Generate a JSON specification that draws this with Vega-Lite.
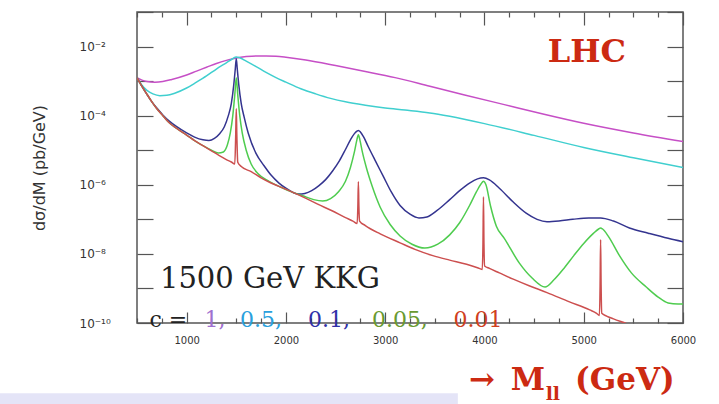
{
  "$schema": "https://vega.github.io/schema/vega-lite/v6.json",
  "width": 546,
  "height": 311,
  "autosize": "none",
  "padding": {"left": 137, "top": 12, "right": 36, "bottom": 81},
  "background": "white",
  "config": {
    "view": {"stroke": "#555", "strokeWidth": 1.5},
    "axis": {"grid": false, "domain": false}
  },
  "datasets": {
    "curves": [
      {"c": "1", "m": 500, "v": 1.26e-3}, {"c": "1", "m": 550, "v": 1.07e-3}, {"c": "1", "m": 600, "v": 9.77e-4},
      {"c": "1", "m": 680, "v": 9.33e-4}, {"c": "1", "m": 760, "v": 9.77e-4}, {"c": "1", "m": 850, "v": 1.12e-3},
      {"c": "1", "m": 1000, "v": 1.51e-3}, {"c": "1", "m": 1100, "v": 1.95e-3}, {"c": "1", "m": 1200, "v": 2.51e-3},
      {"c": "1", "m": 1300, "v": 3.24e-3}, {"c": "1", "m": 1400, "v": 3.98e-3}, {"c": "1", "m": 1500, "v": 4.68e-3},
      {"c": "1", "m": 1600, "v": 5.13e-3}, {"c": "1", "m": 1700, "v": 5.37e-3}, {"c": "1", "m": 1800, "v": 5.37e-3},
      {"c": "1", "m": 1900, "v": 5.25e-3}, {"c": "1", "m": 2000, "v": 4.90e-3}, {"c": "1", "m": 2200, "v": 4.07e-3},
      {"c": "1", "m": 2500, "v": 2.82e-3}, {"c": "1", "m": 2800, "v": 1.905e-3}, {"c": "1", "m": 3100, "v": 1.26e-3},
      {"c": "1", "m": 3450, "v": 7.08e-4}, {"c": "1", "m": 3800, "v": 3.98e-4}, {"c": "1", "m": 4200, "v": 2.09e-4},
      {"c": "1", "m": 4600, "v": 1.10e-4}, {"c": "1", "m": 5000, "v": 6.03e-5}, {"c": "1", "m": 5500, "v": 3.16e-5},
      {"c": "1", "m": 6000, "v": 1.78e-5},

      {"c": "0.5", "m": 500, "v": 1.26e-3}, {"c": "0.5", "m": 550, "v": 7.59e-4}, {"c": "0.5", "m": 600, "v": 5.37e-4},
      {"c": "0.5", "m": 660, "v": 4.27e-4}, {"c": "0.5", "m": 730, "v": 3.80e-4}, {"c": "0.5", "m": 800, "v": 3.89e-4},
      {"c": "0.5", "m": 880, "v": 4.47e-4}, {"c": "0.5", "m": 1000, "v": 6.31e-4}, {"c": "0.5", "m": 1100, "v": 9.33e-4},
      {"c": "0.5", "m": 1200, "v": 1.41e-3}, {"c": "0.5", "m": 1300, "v": 2.24e-3}, {"c": "0.5", "m": 1400, "v": 3.39e-3},
      {"c": "0.5", "m": 1460, "v": 4.37e-3}, {"c": "0.5", "m": 1500, "v": 5.01e-3}, {"c": "0.5", "m": 1540, "v": 4.68e-3},
      {"c": "0.5", "m": 1600, "v": 3.80e-3}, {"c": "0.5", "m": 1700, "v": 2.63e-3}, {"c": "0.5", "m": 1800, "v": 1.78e-3},
      {"c": "0.5", "m": 1900, "v": 1.26e-3}, {"c": "0.5", "m": 2000, "v": 9.33e-4}, {"c": "0.5", "m": 2150, "v": 6.03e-4},
      {"c": "0.5", "m": 2300, "v": 4.27e-4}, {"c": "0.5", "m": 2450, "v": 3.16e-4}, {"c": "0.5", "m": 2600, "v": 2.51e-4},
      {"c": "0.5", "m": 2800, "v": 2.0e-4}, {"c": "0.5", "m": 3000, "v": 1.66e-4}, {"c": "0.5", "m": 3200, "v": 1.45e-4},
      {"c": "0.5", "m": 3450, "v": 1.20e-4}, {"c": "0.5", "m": 3650, "v": 9.55e-5}, {"c": "0.5", "m": 4000, "v": 5.89e-5},
      {"c": "0.5", "m": 4500, "v": 2.69e-5}, {"c": "0.5", "m": 5000, "v": 1.20e-5}, {"c": "0.5", "m": 5500, "v": 6.03e-6},
      {"c": "0.5", "m": 6000, "v": 3.16e-6},

      {"c": "0.1", "m": 500, "v": 1.26e-3}, {"c": "0.1", "m": 550, "v": 7.08e-4}, {"c": "0.1", "m": 600, "v": 4.17e-4},
      {"c": "0.1", "m": 650, "v": 2.51e-4}, {"c": "0.1", "m": 700, "v": 1.66e-4}, {"c": "0.1", "m": 760, "v": 1.05e-4},
      {"c": "0.1", "m": 822, "v": 7.08e-5}, {"c": "0.1", "m": 900, "v": 4.79e-5}, {"c": "0.1", "m": 1000, "v": 3.16e-5},
      {"c": "0.1", "m": 1080, "v": 2.40e-5}, {"c": "0.1", "m": 1164, "v": 2.0e-5}, {"c": "0.1", "m": 1225, "v": 1.905e-5},
      {"c": "0.1", "m": 1280, "v": 2.19e-5}, {"c": "0.1", "m": 1330, "v": 2.95e-5}, {"c": "0.1", "m": 1380, "v": 4.79e-5},
      {"c": "0.1", "m": 1420, "v": 1.0e-4}, {"c": "0.1", "m": 1450, "v": 2.24e-4}, {"c": "0.1", "m": 1475, "v": 7.94e-4},
      {"c": "0.1", "m": 1490, "v": 2.24e-3}, {"c": "0.1", "m": 1500, "v": 4.47e-3}, {"c": "0.1", "m": 1510, "v": 2.24e-3},
      {"c": "0.1", "m": 1525, "v": 7.94e-4}, {"c": "0.1", "m": 1550, "v": 2.24e-4}, {"c": "0.1", "m": 1580, "v": 8.91e-5},
      {"c": "0.1", "m": 1620, "v": 3.16e-5}, {"c": "0.1", "m": 1700, "v": 7.94e-6}, {"c": "0.1", "m": 1780, "v": 3.55e-6},
      {"c": "0.1", "m": 1850, "v": 1.905e-6}, {"c": "0.1", "m": 1930, "v": 1.12e-6}, {"c": "0.1", "m": 2000, "v": 7.94e-7},
      {"c": "0.1", "m": 2070, "v": 6.03e-7}, {"c": "0.1", "m": 2130, "v": 5.37e-7}, {"c": "0.1", "m": 2190, "v": 5.62e-7},
      {"c": "0.1", "m": 2260, "v": 6.76e-7}, {"c": "0.1", "m": 2330, "v": 9.33e-7}, {"c": "0.1", "m": 2400, "v": 1.41e-6},
      {"c": "0.1", "m": 2470, "v": 2.51e-6}, {"c": "0.1", "m": 2540, "v": 5.01e-6}, {"c": "0.1", "m": 2600, "v": 1.05e-5},
      {"c": "0.1", "m": 2650, "v": 2.0e-5}, {"c": "0.1", "m": 2690, "v": 3.02e-5}, {"c": "0.1", "m": 2715, "v": 3.55e-5},
      {"c": "0.1", "m": 2730, "v": 3.72e-5}, {"c": "0.1", "m": 2750, "v": 3.39e-5}, {"c": "0.1", "m": 2780, "v": 2.51e-5},
      {"c": "0.1", "m": 2830, "v": 1.26e-5}, {"c": "0.1", "m": 2900, "v": 5.01e-6}, {"c": "0.1", "m": 2980, "v": 1.78e-6},
      {"c": "0.1", "m": 3060, "v": 6.31e-7}, {"c": "0.1", "m": 3150, "v": 2.51e-7}, {"c": "0.1", "m": 3250, "v": 1.41e-7},
      {"c": "0.1", "m": 3340, "v": 1.10e-7}, {"c": "0.1", "m": 3420, "v": 1.17e-7}, {"c": "0.1", "m": 3520, "v": 1.78e-7},
      {"c": "0.1", "m": 3650, "v": 3.72e-7}, {"c": "0.1", "m": 3750, "v": 6.76e-7}, {"c": "0.1", "m": 3850, "v": 1.12e-6},
      {"c": "0.1", "m": 3930, "v": 1.48e-6}, {"c": "0.1", "m": 3990, "v": 1.585e-6}, {"c": "0.1", "m": 4050, "v": 1.38e-6},
      {"c": "0.1", "m": 4150, "v": 7.94e-7}, {"c": "0.1", "m": 4290, "v": 3.16e-7}, {"c": "0.1", "m": 4420, "v": 1.51e-7},
      {"c": "0.1", "m": 4530, "v": 1.0e-7}, {"c": "0.1", "m": 4630, "v": 8.51e-8}, {"c": "0.1", "m": 4750, "v": 8.91e-8},
      {"c": "0.1", "m": 4890, "v": 1.0e-7}, {"c": "0.1", "m": 5050, "v": 1.10e-7}, {"c": "0.1", "m": 5170, "v": 1.10e-7},
      {"c": "0.1", "m": 5300, "v": 8.91e-8}, {"c": "0.1", "m": 5460, "v": 5.62e-8}, {"c": "0.1", "m": 5650, "v": 3.98e-8},
      {"c": "0.1", "m": 5850, "v": 2.82e-8}, {"c": "0.1", "m": 6000, "v": 2.24e-8},

      {"c": "0.05", "m": 500, "v": 1.26e-3}, {"c": "0.05", "m": 550, "v": 7.08e-4}, {"c": "0.05", "m": 600, "v": 4.17e-4},
      {"c": "0.05", "m": 650, "v": 2.51e-4}, {"c": "0.05", "m": 700, "v": 1.585e-4}, {"c": "0.05", "m": 760, "v": 1.0e-4},
      {"c": "0.05", "m": 822, "v": 6.31e-5}, {"c": "0.05", "m": 900, "v": 4.27e-5}, {"c": "0.05", "m": 1000, "v": 2.75e-5},
      {"c": "0.05", "m": 1080, "v": 1.905e-5}, {"c": "0.05", "m": 1164, "v": 1.35e-5}, {"c": "0.05", "m": 1250, "v": 1.0e-5},
      {"c": "0.05", "m": 1320, "v": 8.32e-6}, {"c": "0.05", "m": 1370, "v": 8.91e-6}, {"c": "0.05", "m": 1410, "v": 1.41e-5},
      {"c": "0.05", "m": 1440, "v": 3.16e-5}, {"c": "0.05", "m": 1465, "v": 1.0e-4}, {"c": "0.05", "m": 1485, "v": 3.98e-4},
      {"c": "0.05", "m": 1500, "v": 1.26e-3}, {"c": "0.05", "m": 1515, "v": 3.98e-4}, {"c": "0.05", "m": 1535, "v": 1.0e-4},
      {"c": "0.05", "m": 1560, "v": 3.16e-5}, {"c": "0.05", "m": 1600, "v": 1.0e-5}, {"c": "0.05", "m": 1650, "v": 3.98e-6},
      {"c": "0.05", "m": 1720, "v": 2.09e-6}, {"c": "0.05", "m": 1830, "v": 1.26e-6}, {"c": "0.05", "m": 1950, "v": 8.51e-7},
      {"c": "0.05", "m": 2070, "v": 6.03e-7}, {"c": "0.05", "m": 2170, "v": 4.79e-7}, {"c": "0.05", "m": 2280, "v": 3.72e-7},
      {"c": "0.05", "m": 2370, "v": 3.39e-7}, {"c": "0.05", "m": 2450, "v": 3.98e-7}, {"c": "0.05", "m": 2530, "v": 6.31e-7},
      {"c": "0.05", "m": 2600, "v": 1.26e-6}, {"c": "0.05", "m": 2650, "v": 3.16e-6}, {"c": "0.05", "m": 2690, "v": 8.91e-6},
      {"c": "0.05", "m": 2715, "v": 2.0e-5}, {"c": "0.05", "m": 2730, "v": 2.82e-5}, {"c": "0.05", "m": 2745, "v": 2.0e-5},
      {"c": "0.05", "m": 2770, "v": 8.91e-6}, {"c": "0.05", "m": 2810, "v": 3.16e-6}, {"c": "0.05", "m": 2870, "v": 8.91e-7},
      {"c": "0.05", "m": 2950, "v": 2.24e-7}, {"c": "0.05", "m": 3050, "v": 7.08e-8}, {"c": "0.05", "m": 3150, "v": 3.31e-8},
      {"c": "0.05", "m": 3270, "v": 1.905e-8}, {"c": "0.05", "m": 3400, "v": 1.48e-8}, {"c": "0.05", "m": 3530, "v": 1.905e-8},
      {"c": "0.05", "m": 3650, "v": 3.55e-8}, {"c": "0.05", "m": 3750, "v": 7.94e-8}, {"c": "0.05", "m": 3850, "v": 2.51e-7},
      {"c": "0.05", "m": 3920, "v": 6.31e-7}, {"c": "0.05", "m": 3965, "v": 1.05e-6}, {"c": "0.05", "m": 3990, "v": 1.26e-6},
      {"c": "0.05", "m": 4015, "v": 1.0e-6}, {"c": "0.05", "m": 4060, "v": 2.51e-7}, {"c": "0.05", "m": 4120, "v": 6.31e-8},
      {"c": "0.05", "m": 4200, "v": 2.82e-8}, {"c": "0.05", "m": 4350, "v": 5.50e-9}, {"c": "0.05", "m": 4480, "v": 2.0e-9},
      {"c": "0.05", "m": 4610, "v": 1.10e-9}, {"c": "0.05", "m": 4700, "v": 1.78e-9}, {"c": "0.05", "m": 4800, "v": 3.80e-9},
      {"c": "0.05", "m": 4900, "v": 8.91e-9}, {"c": "0.05", "m": 5000, "v": 2.0e-8}, {"c": "0.05", "m": 5100, "v": 3.98e-8},
      {"c": "0.05", "m": 5150, "v": 5.25e-8}, {"c": "0.05", "m": 5170, "v": 5.62e-8}, {"c": "0.05", "m": 5190, "v": 5.25e-8},
      {"c": "0.05", "m": 5250, "v": 3.16e-8}, {"c": "0.05", "m": 5360, "v": 8.91e-9}, {"c": "0.05", "m": 5480, "v": 2.82e-9},
      {"c": "0.05", "m": 5630, "v": 1.10e-9}, {"c": "0.05", "m": 5750, "v": 5.62e-10}, {"c": "0.05", "m": 5850, "v": 3.80e-10},
      {"c": "0.05", "m": 5950, "v": 3.55e-10}, {"c": "0.05", "m": 6000, "v": 3.55e-10},

      {"c": "0.01", "m": 500, "v": 1.26e-3}, {"c": "0.01", "m": 550, "v": 7.08e-4}, {"c": "0.01", "m": 600, "v": 4.17e-4},
      {"c": "0.01", "m": 650, "v": 2.51e-4}, {"c": "0.01", "m": 700, "v": 1.585e-4}, {"c": "0.01", "m": 760, "v": 1.0e-4},
      {"c": "0.01", "m": 822, "v": 6.31e-5}, {"c": "0.01", "m": 900, "v": 4.27e-5}, {"c": "0.01", "m": 1000, "v": 2.75e-5},
      {"c": "0.01", "m": 1080, "v": 1.905e-5}, {"c": "0.01", "m": 1164, "v": 1.35e-5}, {"c": "0.01", "m": 1250, "v": 9.55e-6},
      {"c": "0.01", "m": 1325, "v": 7.08e-6}, {"c": "0.01", "m": 1400, "v": 5.37e-6}, {"c": "0.01", "m": 1450, "v": 4.57e-6},
      {"c": "0.01", "m": 1485, "v": 3.98e-6}, {"c": "0.01", "m": 1494, "v": 2.51e-5}, {"c": "0.01", "m": 1500, "v": 1.585e-4},
      {"c": "0.01", "m": 1506, "v": 2.51e-5}, {"c": "0.01", "m": 1515, "v": 4.47e-6}, {"c": "0.01", "m": 1550, "v": 3.39e-6},
      {"c": "0.01", "m": 1650, "v": 2.40e-6}, {"c": "0.01", "m": 1750, "v": 1.585e-6}, {"c": "0.01", "m": 1830, "v": 1.20e-6},
      {"c": "0.01", "m": 2000, "v": 7.41e-7}, {"c": "0.01", "m": 2170, "v": 4.47e-7}, {"c": "0.01", "m": 2320, "v": 2.75e-7},
      {"c": "0.01", "m": 2470, "v": 1.74e-7}, {"c": "0.01", "m": 2600, "v": 1.12e-7}, {"c": "0.01", "m": 2675, "v": 8.91e-8},
      {"c": "0.01", "m": 2718, "v": 7.59e-8}, {"c": "0.01", "m": 2725, "v": 2.51e-7}, {"c": "0.01", "m": 2730, "v": 1.23e-6},
      {"c": "0.01", "m": 2735, "v": 2.51e-7}, {"c": "0.01", "m": 2742, "v": 8.91e-8}, {"c": "0.01", "m": 2800, "v": 6.61e-8},
      {"c": "0.01", "m": 2950, "v": 3.80e-8}, {"c": "0.01", "m": 3150, "v": 2.09e-8}, {"c": "0.01", "m": 3300, "v": 1.35e-8},
      {"c": "0.01", "m": 3480, "v": 8.91e-9}, {"c": "0.01", "m": 3650, "v": 6.61e-9}, {"c": "0.01", "m": 3820, "v": 5.01e-9},
      {"c": "0.01", "m": 3930, "v": 3.98e-9}, {"c": "0.01", "m": 3978, "v": 3.55e-9}, {"c": "0.01", "m": 3985, "v": 2.0e-8},
      {"c": "0.01", "m": 3990, "v": 4.47e-7}, {"c": "0.01", "m": 3995, "v": 2.0e-8}, {"c": "0.01", "m": 4002, "v": 4.47e-9},
      {"c": "0.01", "m": 4050, "v": 3.80e-9}, {"c": "0.01", "m": 4150, "v": 2.82e-9}, {"c": "0.01", "m": 4290, "v": 1.86e-9},
      {"c": "0.01", "m": 4450, "v": 1.20e-9}, {"c": "0.01", "m": 4630, "v": 7.59e-10}, {"c": "0.01", "m": 4850, "v": 4.17e-10},
      {"c": "0.01", "m": 5060, "v": 2.40e-10}, {"c": "0.01", "m": 5130, "v": 1.905e-10}, {"c": "0.01", "m": 5158, "v": 1.66e-10},
      {"c": "0.01", "m": 5165, "v": 1.26e-9}, {"c": "0.01", "m": 5170, "v": 2.57e-8}, {"c": "0.01", "m": 5175, "v": 1.26e-9},
      {"c": "0.01", "m": 5182, "v": 1.905e-10}, {"c": "0.01", "m": 5230, "v": 1.585e-10}, {"c": "0.01", "m": 5300, "v": 1.32e-10},
      {"c": "0.01", "m": 5500, "v": 7.94e-11}, {"c": "0.01", "m": 5700, "v": 3.98e-11}
    ],
    "clabels": [
      {"t": "c =", "k": "=", "m": 816, "v": 7.65e-11},
      {"t": "1,", "k": "1", "m": 1285, "v": 7.65e-11},
      {"t": "0.5,", "k": "0.5", "m": 1749, "v": 7.65e-11},
      {"t": "0.1,", "k": "0.1", "m": 2433, "v": 7.65e-11},
      {"t": "0.05,", "k": "0.05", "m": 3148, "v": 7.65e-11},
      {"t": "0.01", "k": "0.01", "m": 3934, "v": 7.65e-11}
    ]
  },
  "resolve": {
    "scale": {"x": "independent", "y": "independent", "color": "independent"},
    "axis": {"x": "independent", "y": "independent"}
  },
  "layer": [
    {
      "data": {"values": [{"x0": -880, "x1": 3732, "y0": 9.3e-13, "y1": 3e-13}]},
      "mark": {"type": "rect", "color": "#e4e4f7"},
      "encoding": {
        "x": {"field": "x0", "type": "quantitative", "scale": {"type": "linear", "domain": [500, 6000], "nice": false, "zero": false}, "axis": null},
        "x2": {"field": "x1"},
        "y": {"field": "y0", "type": "quantitative", "scale": {"type": "log", "domain": [1e-10, 0.1], "nice": false}, "axis": null},
        "y2": {"field": "y1"}
      }
    },
    {
      "data": {"name": "curves"},
      "mark": {"type": "line", "strokeWidth": 1.5, "clip": true, "interpolate": "monotone"},
      "encoding": {
        "x": {
          "field": "m", "type": "quantitative",
          "scale": {"type": "linear", "domain": [500, 6000], "nice": false, "zero": false},
          "axis": {
            "orient": "bottom", "title": null,
            "values": [500, 750, 1000, 1250, 1500, 1750, 2000, 2250, 2500, 2750, 3000, 3250, 3500, 3750, 4000, 4250, 4500, 4750, 5000, 5250, 5500, 5750, 6000],
            "format": "d",
            "labelExpr": "datum.value % 1000 === 0 ? datum.label : ''",
            "labelFlush": false, "labelOverlap": false,
            "labelFont": "DejaVu Sans", "labelFontSize": 10, "labelColor": "#333",
            "tickColor": "#555", "tickWidth": 1.2,
            "tickSize": {"condition": {"test": "datum.value % 1000 === 0", "value": -11}, "value": -5},
            "labelPadding": 23
          }
        },
        "y": {
          "field": "v", "type": "quantitative",
          "scale": {"type": "log", "domain": [1e-10, 0.1], "nice": false},
          "axis": {
            "orient": "left",
            "title": "dσ/dM (pb/GeV)",
            "titleFont": "DejaVu Sans", "titleFontSize": 16, "titleFontWeight": "normal", "titleColor": "#333",
            "titlePadding": 32,
            "values": [1e-10, 1e-9, 1e-8, 1e-7, 1e-6, 1e-5, 1e-4, 1e-3, 1e-2, 1e-1],
            "labelExpr": "round(log(datum.value)/LN10) == -10 ? '10⁻¹⁰' : round(log(datum.value)/LN10) == -8 ? '10⁻⁸' : round(log(datum.value)/LN10) == -6 ? '10⁻⁶' : round(log(datum.value)/LN10) == -4 ? '10⁻⁴' : round(log(datum.value)/LN10) == -2 ? '10⁻²' : ''",
            "labelAlign": "left", "labelBaseline": "middle",
            "labelFlush": false, "labelOverlap": false,
            "labelFont": "DejaVu Sans", "labelFontSize": 12, "labelColor": "#333",
            "tickColor": "#555", "tickWidth": 1.2, "tickSize": -16,
            "labelPadding": 74
          }
        },
        "color": {
          "field": "c", "type": "nominal", "legend": null,
          "scale": {"domain": ["1", "0.5", "0.1", "0.05", "0.01"], "range": ["#c64fc6", "#40cfcf", "#34348f", "#4fcc4f", "#cc4f4f"]}
        }
      }
    },
    {
      "data": {"values": [{"t": "LHC", "m": 5032, "v": 3.47e-3}]},
      "mark": {"type": "text", "font": "DejaVu Serif", "fontWeight": "bold", "fontSize": 32, "color": "#cc2a12", "align": "center", "baseline": "alphabetic"},
      "encoding": {
        "text": {"field": "t"},
        "x": {
          "field": "m", "type": "quantitative",
          "scale": {"type": "linear", "domain": [500, 6000], "nice": false, "zero": false},
          "axis": {
            "orient": "top", "title": null, "labels": false,
            "values": [500, 750, 1000, 1250, 1500, 1750, 2000, 2250, 2500, 2750, 3000, 3250, 3500, 3750, 4000, 4250, 4500, 4750, 5000, 5250, 5500, 5750, 6000],
            "tickColor": "#555", "tickWidth": 1.2,
            "tickSize": {"condition": {"test": "datum.value % 1000 === 0", "value": -13}, "value": -5}
          }
        },
        "y": {
          "field": "v", "type": "quantitative",
          "scale": {"type": "log", "domain": [1e-10, 0.1], "nice": false},
          "axis": {
            "orient": "right", "title": null, "labels": false,
            "values": [1e-10, 1e-9, 1e-8, 1e-7, 1e-6, 1e-5, 1e-4, 1e-3, 1e-2, 1e-1],
            "tickColor": "#555", "tickWidth": 1.2, "tickSize": -16
          }
        }
      }
    },
    {
      "data": {"values": [{"t": "1500 GeV KKG", "m": 1839, "v": 1.02e-9}]},
      "mark": {"type": "text", "font": "DejaVu Serif", "fontSize": 29, "color": "#222", "align": "center", "baseline": "alphabetic"},
      "encoding": {
        "text": {"field": "t"},
        "x": {"field": "m", "type": "quantitative", "scale": {"type": "linear", "domain": [500, 6000], "nice": false, "zero": false}, "axis": null},
        "y": {"field": "v", "type": "quantitative", "scale": {"type": "log", "domain": [1e-10, 0.1], "nice": false}, "axis": null}
      }
    },
    {
      "data": {"name": "clabels"},
      "mark": {"type": "text", "font": "DejaVu Serif", "fontSize": 22, "align": "center", "baseline": "alphabetic"},
      "encoding": {
        "text": {"field": "t"},
        "x": {"field": "m", "type": "quantitative", "scale": {"type": "linear", "domain": [500, 6000], "nice": false, "zero": false}, "axis": null},
        "y": {"field": "v", "type": "quantitative", "scale": {"type": "log", "domain": [1e-10, 0.1], "nice": false}, "axis": null},
        "color": {
          "field": "k", "type": "nominal", "legend": null,
          "scale": {"domain": ["=", "1", "0.5", "0.1", "0.05", "0.01"], "range": ["#222222", "#a070d0", "#2aa0dd", "#3030a8", "#6a9a30", "#d0401e"]}
        }
      }
    },
    {
      "data": {"values": [
        {"t": "→", "m": 3974, "v": 1.15e-12},
        {"t": "M", "m": 4437, "v": 1.15e-12},
        {"t": "(GeV)", "m": 5414, "v": 1.15e-12}
      ]},
      "mark": {"type": "text", "font": "DejaVu Serif", "fontWeight": "bold", "fontSize": 31, "color": "#cc2a12", "align": "center", "baseline": "alphabetic"},
      "encoding": {
        "text": {"field": "t"},
        "x": {"field": "m", "type": "quantitative", "scale": {"type": "linear", "domain": [500, 6000], "nice": false, "zero": false}, "axis": null},
        "y": {"field": "v", "type": "quantitative", "scale": {"type": "log", "domain": [1e-10, 0.1], "nice": false}, "axis": null}
      }
    },
    {
      "data": {"values": [{"t": "ll", "m": 4689, "v": 5.89e-13}]},
      "mark": {"type": "text", "font": "DejaVu Serif", "fontWeight": "bold", "fontSize": 19, "color": "#cc2a12", "align": "center", "baseline": "alphabetic"},
      "encoding": {
        "text": {"field": "t"},
        "x": {"field": "m", "type": "quantitative", "scale": {"type": "linear", "domain": [500, 6000], "nice": false, "zero": false}, "axis": null},
        "y": {"field": "v", "type": "quantitative", "scale": {"type": "log", "domain": [1e-10, 0.1], "nice": false}, "axis": null}
      }
    }
  ]
}
